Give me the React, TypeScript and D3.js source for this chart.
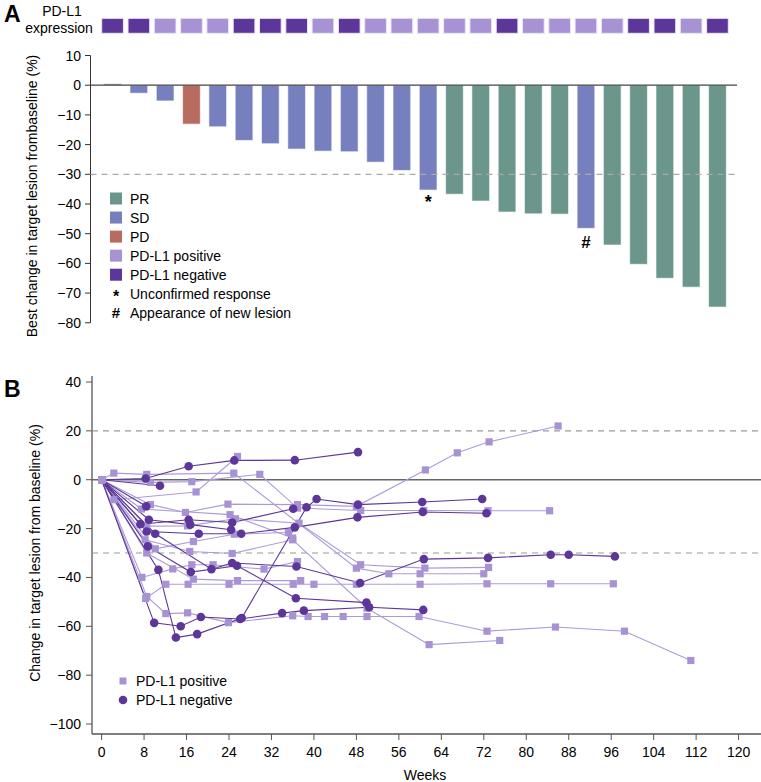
import React from "react";
import * as d3 from "d3";

// ---------- Panel A data ----------
const barValues = [0.5, -2.7, -5.3, -13.1, -14.0, -18.6, -19.7, -21.5, -22.2, -22.4, -25.9, -28.7, -35.3, -36.7, -39.0, -42.7, -43.3, -43.4, -48.2, -53.8, -60.3, -65.0, -68.0, -74.7];
const barResponse = ["SD", "SD", "SD", "PD", "SD", "SD", "SD", "SD", "SD", "SD", "SD", "SD", "SD", "PR", "PR", "PR", "PR", "PR", "SD", "PR", "PR", "PR", "PR", "PR"];
const barPDL1 = ["neg", "neg", "pos", "pos", "pos", "neg", "neg", "neg", "pos", "neg", "pos", "pos", "pos", "pos", "pos", "neg", "pos", "pos", "pos", "pos", "neg", "neg", "pos", "neg"];
const barNotes = ["", "", "", "", "", "", "", "", "", "", "", "", "*", "", "", "", "", "", "#", "", "", "", "", ""];
const topTicks = [10, 0, -10, -20, -30, -40, -50, -60, -70, -80];
const legendA = [
  { key: "PR", label: "PR" },
  { key: "SD", label: "SD" },
  { key: "PD", label: "PD" },
  { key: "pos", label: "PD-L1 positive" },
  { key: "neg", label: "PD-L1 negative" },
  { key: "*", label: "Unconfirmed response" },
  { key: "#", label: "Appearance of new lesion" },
];

// ---------- Panel B data (weeks, % change) ----------
const positiveSeries: number[][][] = [
  [[0, 0], [2.3, 2.7], [8.5, 2.2], [24.9, 2.7], [48, -36.2], [54.1, -38.5], [60, -38.5], [72, -38.5]],
  [[0, 0], [9.2, -1.1], [17, -0.8], [29.8, 2.2], [36.9, -11.6], [48.8, -12.6], [60.7, -12.6], [72.8, -12.7], [84.4, -12.7]],
  [[0, 0], [9.2, -10.2], [15.8, -13.4], [23.8, -10], [36.9, -10.2], [48, -10.9], [61, 4], [67, 11], [73, 15.5], [86, 22]],
  [[0, 0], [2.3, -8.2], [17.8, -5], [25.6, 9.5]],
  [[0, 0], [10.1, -28.3], [17.3, -25.3], [25, -22.3], [35.2, -21.6]],
  [[0, 0], [7.6, -40], [13.4, -36.5], [17, -34.8], [21, -34.8], [30.6, -36.6], [36.9, -33.5]],
  [[0, 0], [8.5, -30], [17.3, -40.7], [25.6, -41.3], [37.5, -41.3]],
  [[0, 0], [7.5, -12], [24.2, -14.3], [36, -23.9]],
  [[0, 0], [8.5, -19], [16.2, -18.9], [25.2, -16], [37.2, -17.8], [48.8, -34.8], [60.9, -36.2], [72.9, -35.9]],
  [[0, 0], [8.3, -48.6], [12.1, -42.8], [16.3, -42.8], [24, -42.8], [36.1, -42.8], [40, -42.8], [48, -42.8], [60, -42.8], [72.6, -42.6], [84.6, -42.6], [96.4, -42.6]],
  [[0, 0], [8.5, -47.8], [12.1, -54.8], [16.2, -54.5], [23.9, -58.5], [36, -55.7], [38.9, -56], [42, -56], [45.5, -56], [50, -56], [59.8, -56], [72.6, -62], [85.5, -60.3], [98.5, -62], [111, -74]],
  [[0, 0], [8.2, -24.6], [16.6, -29.4], [24.6, -30.2], [36, -24.6], [50, -52.6], [61.7, -67.5], [75, -65.8]],
];
const negativeSeries: number[][][] = [
  [[0, 0], [8.3, 0.5], [16.4, 5.5], [25, 7.9], [36.4, 8], [48.3, 11.3]],
  [[0, 0], [10.7, -36.9], [14, -64.6], [18, -63.2], [26.4, -56.6], [38.6, -11.3], [40.5, -7.9], [48.3, -10.2], [60.4, -9.1], [71.7, -7.9]],
  [[0, 0], [9.9, -58.6], [14.9, -60], [18.7, -56.2], [26.1, -57], [34, -54.6], [38.1, -53.6], [50.4, -52.2], [60.6, -53.3]],
  [[0, 0], [7.3, -18.2], [16.4, -16.4], [24.6, -17.5], [36.1, -11.9]],
  [[0, 0], [8.5, -21.2], [18.3, -22.1], [26.3, -22.1], [36.4, -19.5], [48.2, -15.4], [60.5, -13.2], [72.5, -13.7]],
  [[0, 0], [10.1, -22.1], [20.7, -36.6], [24.6, -34.1], [36.7, -35.5], [48.7, -42.3], [60.7, -32.5], [72.8, -32], [84.6, -30.7], [88, -30.7], [96.7, -31.4]],
  [[0, 0], [8.7, -27.3], [16.8, -37.8], [25.5, -35.2], [36.6, -48.5], [49.9, -50.3]],
  [[0, 0], [8.9, -16.4], [16.7, -18.4], [24.4, -20.5]],
  [[0, 0], [8.4, -10.9]],
  [[0, 0], [11, -2.5]],
];
const bottomYTicks = [40, 20, 0, -20, -40, -60, -80, -100];
const bottomXTicks = [0, 8, 16, 24, 32, 40, 48, 56, 64, 72, 80, 88, 96, 104, 112, 120];

const FONT = "'Liberation Sans', Arial, Helvetica, sans-serif";
const C = {
  PR: "#6b968c",
  SD: "#7780bf",
  PD: "#b86c60",
  pos: "#a793d4",
  neg: "#5c3698",
  posLine: "#ad9bd9",
  grid: "#9a9a9a",
};

export default function App() {
  // Panel A scales
  const xA = d3.scaleBand<number>().domain(d3.range(barValues.length)).range([99.4, 99.4 + 24 * 26.3]).paddingInner(0.175).paddingOuter(0.0875);
  const yA = d3.scaleLinear().domain([-80, 10]).range([322.8, 55.5]);
  const barW = 17.7;
  const barOff = (xA.bandwidth() - barW) / 2;

  // Panel B scales
  const xB = d3.scaleLinear().domain([0, 120]).range([101.6, 738.6]);
  const yB = d3.scaleLinear().domain([-100, 40]).range([724, 382]);
  const line = d3.line<number[]>().x((d) => xB(d[0])).y((d) => yB(d[1]));

  const legColor = (k: string) => (C as any)[k];

  return (
    <svg width={761} height={782} style={{ position: "absolute", left: 0, top: 0, background: "#fff" }} fontFamily={FONT}>
      {/* ===== Panel A ===== */}
      <text x={4} y={22} fontSize={23} fontWeight="bold">A</text>
      <text x={62} y={16} fontSize={14} textAnchor="middle">PD-L1</text>
      <text x={59} y={32.5} fontSize={14} textAnchor="middle">expression</text>
      {barPDL1.map((p, i) => (
        <rect key={"sq" + i} x={xA(i)} y={18.3} width={xA.bandwidth()} height={15} fill={legColor(p)} stroke="#ece6f6" strokeWidth={1} />
      ))}
      {/* y axis */}
      <line x1={90.5} x2={90.5} y1={yA(10)} y2={yA(-80)} stroke="#333" strokeWidth={1} />
      {topTicks.map((t) => (
        <g key={"ta" + t}>
          <line x1={85} x2={90.5} y1={yA(t)} y2={yA(t)} stroke="#333" />
          <text x={81} y={yA(t) + 5} fontSize={14} textAnchor="end">{d3.format("")(t)}</text>
        </g>
      ))}
      <text transform={`translate(37,${196}) rotate(-90)`} fontSize={14} textAnchor="middle">Best change in target lesion frombaseline (%)</text>
      {/* bars */}
      {barValues.map((v, i) => (
        <rect key={"b" + i} x={(xA(i) as number) + barOff} y={yA(Math.max(0, v))} width={barW} height={Math.abs(yA(v) - yA(0))} fill={legColor(barResponse[i])} stroke="#ffffff" strokeOpacity={0.6} strokeWidth={1} />
      ))}
      <line x1={90.5} x2={737} y1={yA(0)} y2={yA(0)} stroke="#444" strokeWidth={1.2} />
      <line x1={90.5} x2={738} y1={yA(-30)} y2={yA(-30)} stroke="#aaa" strokeWidth={1.3} strokeDasharray="6,5" />
      {barNotes.map((n, i) => n ? (
        <text key={"n" + i} x={(xA(i) as number) + barOff + barW / 2} y={yA(barValues[i]) + (n === "*" ? 18 : 20)} fontSize={n === "*" ? 18 : 17} fontWeight="bold" textAnchor="middle">{n}</text>
      ) : null)}
      {/* legend A */}
      {legendA.map((l, i) => {
        const cy = 198.5 + i * 19.05;
        return (
          <g key={"la" + l.key}>
            {l.key === "*" || l.key === "#" ? (
              <text x={116} y={cy + (l.key === "*" ? 8 : 5.5)} fontSize={l.key === "*" ? 16 : 15} fontWeight="bold" textAnchor="middle">{l.key}</text>
            ) : (
              <rect x={110} y={cy - 6} width={12} height={12} fill={legColor(l.key)} />
            )}
            <text x={130} y={cy + 5} fontSize={14}>{l.label}</text>
          </g>
        );
      })}

      {/* ===== Panel B ===== */}
      <text x={4} y={397} fontSize={23} fontWeight="bold">B</text>
      <line x1={92} x2={92} y1={376} y2={734} stroke="#555" strokeWidth={1.3} />
      <line x1={92} x2={761} y1={734} y2={734} stroke="#555" strokeWidth={1.3} />
      {bottomYTicks.map((t) => (
        <g key={"tb" + t}>
          <line x1={86} x2={92} y1={yB(t)} y2={yB(t)} stroke="#555" />
          <text x={81} y={yB(t) + 5} fontSize={14} textAnchor="end">{d3.format("")(t)}</text>
        </g>
      ))}
      {bottomXTicks.map((t) => (
        <g key={"tx" + t}>
          <line x1={xB(t)} x2={xB(t)} y1={734} y2={740} stroke="#555" />
          <text x={xB(t)} y={757} fontSize={14} textAnchor="middle">{t}</text>
        </g>
      ))}
      <text x={425} y={780} fontSize={14} textAnchor="middle">Weeks</text>
      <text transform={`translate(40,${553}) rotate(-90)`} fontSize={14} textAnchor="middle">Change in target lesion from baseline (%)</text>
      <line x1={92} x2={761} y1={yB(20)} y2={yB(20)} stroke={C.grid} strokeWidth={1.2} strokeDasharray="6,5" />
      <line x1={92} x2={761} y1={yB(-30)} y2={yB(-30)} stroke={C.grid} strokeWidth={1.2} strokeDasharray="6,5" />
      <line x1={92} x2={761} y1={yB(0)} y2={yB(0)} stroke="#666" strokeWidth={1.6} />

      {positiveSeries.map((s, i) => (
        <path key={"pl" + i} d={line(s) as string} fill="none" stroke={C.posLine} strokeWidth={1.1} />
      ))}
      {negativeSeries.map((s, i) => (
        <path key={"nl" + i} d={line(s) as string} fill="none" stroke={C.neg} strokeWidth={1.1} />
      ))}
      {positiveSeries.map((s, i) =>
        s.map((p, j) => (
          <rect key={"pm" + i + "-" + j} x={xB(p[0]) - 3.6} y={yB(p[1]) - 3.6} width={7.2} height={7.2} fill={C.pos} />
        ))
      )}
      {negativeSeries.map((s, i) =>
        s.slice(1).map((p, j) => (
          <circle key={"nm" + i + "-" + j} cx={xB(p[0])} cy={yB(p[1])} r={4.3} fill={C.neg} />
        ))
      )}
      {/* legend B */}
      <rect x={119.5} y={677.5} width={7} height={7} fill={C.pos} />
      <text x={136} y={686} fontSize={14}>PD-L1 positive</text>
      <circle cx={123} cy={700} r={4.3} fill={C.neg} />
      <text x={136} y={705} fontSize={14}>PD-L1 negative</text>
    </svg>
  );
}
